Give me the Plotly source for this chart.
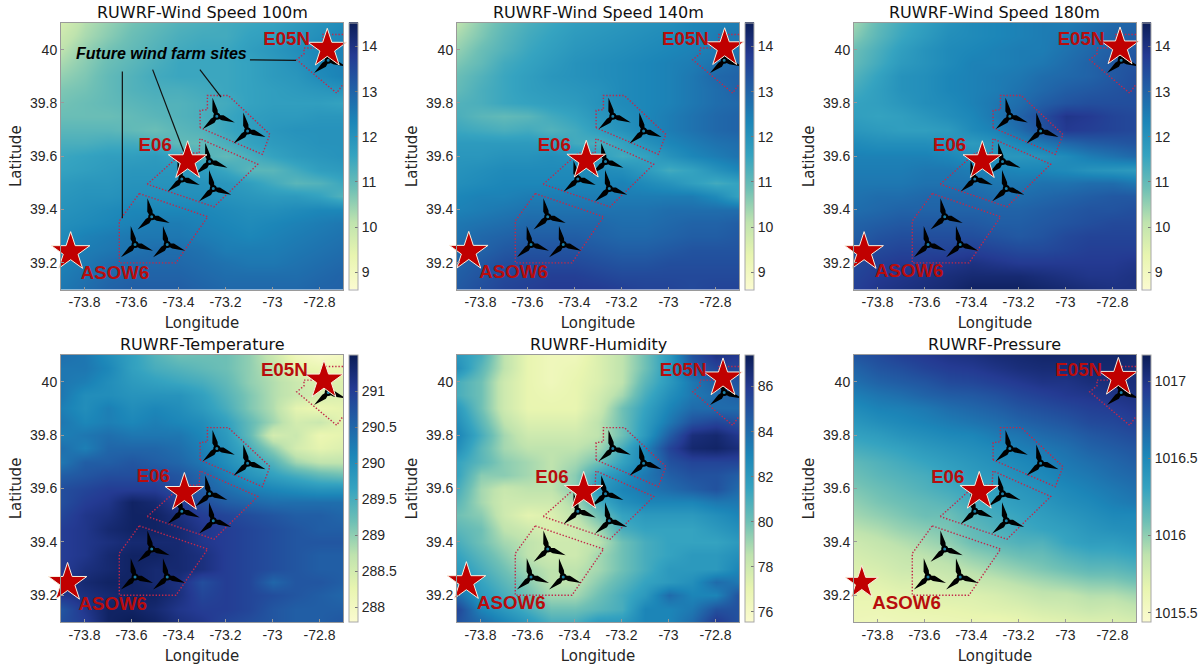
import math
import plotly.graph_objects as go

LON = [-73.9, -73.8, -73.7, -73.6, -73.5, -73.4, -73.3, -73.2, -73.1, -73.0, -72.9, -72.8, -72.7]
LAT = [39.10,39.15,39.20,39.25,39.30,39.35,39.40,39.45,39.50,39.55,39.60,39.65,39.70,39.75,39.80,39.85,39.90,39.95,40.00,40.05,40.10]

wind100 = [
 [12.6,12.8,13.0,13.1,13.1,13.1,13.0,12.9,12.9,12.9,12.9,13.0,13.0],
 [12.5,12.7,12.9,13.0,13.0,13.0,12.9,12.8,12.8,12.8,12.8,12.9,13.0],
 [12.4,12.6,12.8,12.9,12.9,12.9,12.8,12.7,12.6,12.6,12.7,12.8,12.9],
 [12.3,12.5,12.6,12.7,12.8,12.8,12.7,12.5,12.5,12.5,12.6,12.7,12.8],
 [12.2,12.4,12.5,12.6,12.6,12.6,12.5,12.4,12.3,12.4,12.5,12.6,12.7],
 [12.1,12.2,12.3,12.4,12.5,12.5,12.4,12.3,12.2,12.3,12.4,12.5,12.6],
 [12.0,12.1,12.2,12.3,12.3,12.3,12.3,12.2,12.1,12.1,12.2,12.3,12.3],
 [11.9,12.0,12.0,12.1,12.1,12.1,12.1,12.0,11.9,11.8,11.8,11.6,11.2],
 [11.8,11.9,11.9,12.0,12.0,12.0,12.0,11.9,11.7,11.4,11.1,11.2,11.5],
 [11.6,11.7,11.8,11.9,11.9,11.9,11.8,11.5,11.1,11.1,11.4,11.7,11.8],
 [11.5,11.6,11.7,11.7,11.8,11.6,11.2,11.0,11.3,11.6,11.8,11.9,12.0],
 [11.3,11.3,11.4,11.4,11.3,11.0,11.0,11.3,11.6,11.8,11.9,12.0,12.0],
 [11.1,11.1,11.1,11.0,10.9,11.1,11.2,11.5,11.7,11.9,12.0,12.0,12.0],
 [10.9,10.9,10.9,11.0,11.1,11.2,11.3,11.5,11.7,11.8,11.8,11.9,11.9],
 [10.8,10.9,11.0,11.1,11.2,11.2,11.3,11.4,11.6,11.7,11.7,11.7,11.6],
 [10.7,10.8,11.0,11.2,11.3,11.3,11.4,11.5,11.6,11.7,11.8,11.9,12.0],
 [10.5,10.7,11.0,11.2,11.4,11.5,11.5,11.5,11.6,11.8,11.9,12.2,12.4],
 [10.3,10.6,10.9,11.1,11.3,11.5,11.5,11.5,11.6,11.8,12.0,12.3,12.4],
 [10.1,10.5,10.8,11.0,11.2,11.4,11.5,11.5,11.7,11.9,12.1,12.3,12.4],
 [9.9,10.3,10.6,10.9,11.1,11.3,11.4,11.4,11.6,11.7,11.9,12.1,12.3],
 [9.7,10.2,10.5,10.8,11.0,11.2,11.3,11.4,11.5,11.6,11.8,12.0,12.2],
]
wind140 = [
 [13.2,13.4,13.6,13.7,13.8,13.8,13.8,13.7,13.6,13.6,13.5,13.6,13.6],
 [13.1,13.3,13.5,13.6,13.7,13.7,13.6,13.5,13.5,13.5,13.5,13.5,13.5],
 [13.0,13.2,13.4,13.5,13.5,13.5,13.4,13.3,13.3,13.4,13.4,13.4,13.4],
 [12.9,13.0,13.2,13.3,13.3,13.3,13.2,13.1,13.1,13.2,13.3,13.3,13.3],
 [12.7,12.9,13.0,13.1,13.1,13.1,13.0,12.9,12.9,13.0,13.1,13.1,13.2],
 [12.6,12.7,12.8,12.9,12.9,12.9,12.9,12.8,12.8,12.9,13.0,13.0,13.1],
 [12.4,12.5,12.6,12.7,12.7,12.7,12.7,12.7,12.7,12.8,12.8,12.8,12.8],
 [12.3,12.4,12.4,12.5,12.5,12.5,12.5,12.5,12.5,12.5,12.5,12.2,11.6],
 [12.1,12.2,12.3,12.3,12.3,12.3,12.3,12.4,12.2,12.0,11.7,11.4,11.6],
 [12.0,12.1,12.2,12.2,12.2,12.2,12.2,12.1,11.8,11.4,11.6,12.0,12.3],
 [11.9,11.9,12.0,12.0,12.1,12.0,11.7,11.4,11.6,12.0,12.3,12.5,12.7],
 [11.8,11.8,11.8,11.8,11.7,11.4,11.3,11.6,12.0,12.3,12.5,12.7,12.8],
 [11.5,11.4,11.3,11.4,11.2,11.4,11.7,12.0,12.3,12.5,12.7,12.9,13.0],
 [11.3,11.1,11.0,11.1,11.4,11.6,11.9,12.1,12.3,12.5,12.7,12.9,13.0],
 [11.2,11.3,11.5,11.6,11.7,11.8,12.0,12.2,12.3,12.4,12.6,12.8,12.9],
 [11.0,11.3,11.5,11.7,11.8,11.9,12.0,12.2,12.3,12.4,12.6,12.8,13.0],
 [10.9,11.2,11.5,11.7,11.9,12.0,12.1,12.2,12.3,12.4,12.6,12.9,13.0],
 [10.7,11.0,11.4,11.6,11.8,12.0,12.1,12.2,12.3,12.4,12.5,12.7,12.9],
 [10.5,10.9,11.2,11.5,11.7,11.9,12.0,12.1,12.2,12.3,12.4,12.5,12.6],
 [10.3,10.7,11.1,11.4,11.6,11.8,11.9,12.0,12.1,12.2,12.3,12.5,12.6],
 [10.1,10.6,11.0,11.3,11.5,11.7,11.8,11.9,12.0,12.1,12.3,12.4,12.5],
]
wind180 = [
 [13.7,13.9,14.0,14.1,14.2,14.4,14.4,14.4,14.3,14.2,14.1,14.0,14.0],
 [13.6,13.8,13.9,14.0,14.1,14.2,14.2,14.2,14.1,14.0,13.9,13.9,14.0],
 [13.5,13.7,13.8,13.8,13.9,14.0,13.9,13.8,13.8,13.8,13.8,13.8,13.9],
 [13.3,13.5,13.6,13.6,13.6,13.7,13.6,13.5,13.5,13.6,13.7,13.7,13.7],
 [13.1,13.3,13.4,13.4,13.4,13.4,13.3,13.2,13.3,13.5,13.6,13.6,13.6],
 [13.0,13.1,13.2,13.2,13.2,13.2,13.1,13.1,13.2,13.3,13.4,13.5,13.5],
 [12.8,12.9,13.0,13.0,13.0,13.0,13.0,13.0,13.1,13.2,13.3,13.3,13.4],
 [12.7,12.8,12.8,12.9,12.9,12.9,12.8,12.8,12.9,13.0,13.1,13.2,13.2],
 [12.6,12.6,12.6,12.7,12.7,12.7,12.6,12.6,12.7,12.7,12.8,12.8,12.6],
 [12.5,12.5,12.5,12.6,12.6,12.5,12.4,12.3,12.3,12.2,12.0,11.9,11.8],
 [12.4,12.4,12.4,12.4,12.3,12.1,11.9,11.9,12.0,12.2,12.5,12.7,12.9],
 [12.2,12.1,12.1,12.1,12.0,11.8,12.0,12.3,12.6,12.9,13.1,13.2,13.3],
 [11.9,11.8,11.7,11.7,11.8,12.2,12.4,12.8,13.3,13.8,13.7,13.6,13.5],
 [11.7,11.6,11.7,11.9,12.1,12.3,12.6,13.0,13.4,13.9,13.8,13.6,13.5],
 [11.6,11.7,11.9,12.1,12.2,12.4,12.6,12.8,13.1,13.3,13.4,13.4,13.4],
 [11.4,11.7,12.0,12.1,12.3,12.4,12.5,12.7,12.9,13.1,13.2,13.3,13.4],
 [11.2,11.6,12.0,12.1,12.3,12.4,12.5,12.6,12.8,12.9,13.0,13.2,13.4],
 [11.0,11.4,11.8,12.0,12.2,12.4,12.4,12.5,12.6,12.8,13.0,13.2,13.3],
 [10.9,11.3,11.7,12.0,12.2,12.3,12.4,12.5,12.5,12.7,12.9,13.1,13.2],
 [10.6,11.1,11.5,11.8,12.1,12.2,12.3,12.4,12.5,12.6,12.8,13.0,13.1],
 [10.4,11.0,11.4,11.7,12.0,12.2,12.3,12.4,12.5,12.5,12.7,12.9,13.0],
]
temperature = [
 [290.8,291.0,291.4,291.5,291.4,291.2,291.1,290.9,290.8,290.7,290.6,290.6,290.7],
 [290.7,291.1,291.4,291.4,291.3,291.1,291.0,291.0,290.9,290.7,290.6,290.6,290.6],
 [291.1,291.2,291.3,291.4,291.4,291.2,290.9,291.0,290.9,290.8,290.7,290.6,290.5],
 [291.1,291.3,291.4,291.4,291.3,291.2,290.8,291.0,290.9,290.5,290.7,290.7,290.6],
 [291.0,291.2,291.3,291.4,291.3,291.3,291.2,291.0,290.9,290.8,290.7,290.6,290.6],
 [291.0,291.1,291.3,291.4,291.4,291.3,291.2,291.0,290.9,290.8,290.7,290.6,290.6],
 [291.0,291.1,291.2,291.3,291.3,291.3,291.1,291.0,290.9,290.8,290.7,290.7,290.7],
 [291.0,291.1,291.3,291.4,291.4,291.3,291.1,291.0,290.9,290.8,290.7,290.6,290.6],
 [290.9,291.1,291.2,291.4,291.4,291.2,291.0,290.9,290.8,290.7,290.6,290.6,290.5],
 [290.8,291.0,291.1,291.4,291.3,291.0,290.8,290.6,290.5,290.4,290.4,290.4,290.4],
 [290.8,290.9,291.0,291.0,291.0,290.8,290.6,290.4,290.2,290.1,290.0,289.9,289.9],
 [290.6,290.7,290.8,290.8,290.8,290.7,290.5,290.2,289.9,289.7,289.5,289.3,289.2],
 [290.3,290.6,290.6,290.7,290.6,290.5,290.3,290.0,289.7,289.4,288.9,288.7,288.7],
 [290.4,290.2,290.5,290.5,290.5,290.4,290.2,289.9,289.5,289.0,288.5,288.3,288.4],
 [290.2,290.3,290.4,290.3,290.3,290.3,290.1,289.8,289.3,288.5,288.6,288.2,288.3],
 [290.3,290.1,290.2,290.1,290.2,290.1,290.0,289.7,289.3,288.9,288.5,288.6,288.3],
 [290.2,290.0,290.2,290.0,290.1,290.0,289.8,289.5,289.1,288.8,288.3,288.2,288.3],
 [290.3,290.0,290.0,289.9,289.9,289.9,289.7,289.4,289.1,288.8,288.6,288.5,288.4],
 [290.3,290.2,290.0,289.8,289.7,289.6,289.5,289.3,289.0,288.8,288.6,288.4,288.4],
 [290.3,290.3,290.1,289.7,289.5,289.4,289.3,289.2,289.0,288.7,288.3,288.2,288.2],
 [290.4,290.3,290.0,289.7,289.4,289.2,289.2,289.2,289.0,288.6,288.1,287.9,288.0],
]
humidity = [
 [85,84,83,82,81,81,82,82,83,83,84,86,85],
 [85.5,83,82,81,80,80,80.5,81,83,83,83.5,85,85],
 [84,82,81,80,79,79,80,81,82,84,83,83,85],
 [83,81.5,80.5,79.5,78.5,78.5,79.5,80.5,81.5,82,82.5,84,83.5],
 [82,81,80,79,78.5,78.5,79,80,81,82,82,82,83],
 [81.5,80.5,79.5,78.5,78,78,79,80,81,81.5,82,82,82.5],
 [81,80,79,78.5,78,78,78.5,80,81,81.5,81.5,81.5,82],
 [80.5,80,78.5,78,77.5,78,79,81,81.5,81.5,81.5,82,82.5],
 [80,79.5,78,77.2,77.5,78.5,80,81.5,82,82,82,82.5,83],
 [80.5,79,78,78,78,79,81,82.5,83,83,83,83.5,83.5],
 [81,79,78.2,78.5,78.5,79.5,82,83,83.5,84,84.5,85,84],
 [81.5,79.5,79.5,79,78.5,79.5,81.5,82.5,83.5,84.5,85,85,84.5],
 [81.5,80.5,79.5,79,78.5,79,80,81.5,83,85,85.5,85.5,85.5],
 [82.5,80.5,79,78.5,78.5,78.5,79,81,83,85.5,86.8,87,86.5],
 [83,81,79,78,78,78,78.5,80,82,84.5,86.5,86.8,86],
 [82.5,80.5,78.5,77.5,77.5,77.5,78.5,80,81.8,83.5,85,85.5,85],
 [82,80,78,77,77,77,78,80,81.5,83,84,84,84],
 [81,80,78,77,76.8,77,77.8,79,81,82.5,83.5,84,84.5],
 [81,80,78,77,76.5,77,77.5,78.5,80.5,82,83.5,84.5,85],
 [82.5,80.5,78.5,77,76.5,76.8,77.5,78.5,80,82,84.5,85.5,85.5],
 [82,81,78.5,77,76.5,76.5,77.5,78.5,80,82,85,86.3,86],
]
pressure = [
 [1015.60,1015.58,1015.60,1015.60,1015.62,1015.63,1015.62,1015.65,1015.68,1015.70,1015.72,1015.72,1015.75],
 [1015.62,1015.62,1015.64,1015.66,1015.66,1015.68,1015.70,1015.72,1015.76,1015.78,1015.82,1015.80,1015.85],
 [1015.65,1015.65,1015.68,1015.70,1015.72,1015.72,1015.75,1015.80,1015.85,1015.85,1015.90,1015.90,1015.95],
 [1015.68,1015.70,1015.74,1015.74,1015.78,1015.82,1015.85,1015.90,1015.94,1015.98,1016.02,1016.03,1016.08],
 [1015.72,1015.75,1015.80,1015.82,1015.85,1015.90,1015.95,1016.00,1016.05,1016.10,1016.15,1016.15,1016.20],
 [1015.76,1015.80,1015.84,1015.88,1015.92,1016.00,1016.05,1016.10,1016.12,1016.20,1016.25,1016.26,1016.30],
 [1015.80,1015.85,1015.90,1015.95,1016.00,1016.10,1016.15,1016.20,1016.20,1016.30,1016.35,1016.35,1016.40],
 [1015.88,1015.92,1015.98,1016.02,1016.06,1016.14,1016.20,1016.26,1016.30,1016.34,1016.40,1016.44,1016.46],
 [1015.95,1016.00,1016.05,1016.10,1016.10,1016.20,1016.25,1016.30,1016.35,1016.40,1016.45,1016.50,1016.50],
 [1016.00,1016.06,1016.10,1016.14,1016.18,1016.26,1016.30,1016.36,1016.40,1016.46,1016.50,1016.56,1016.60],
 [1016.05,1016.10,1016.15,1016.20,1016.25,1016.30,1016.35,1016.40,1016.45,1016.50,1016.55,1016.60,1016.65],
 [1016.10,1016.16,1016.20,1016.24,1016.30,1016.36,1016.40,1016.46,1016.50,1016.56,1016.60,1016.66,1016.70],
 [1016.15,1016.20,1016.25,1016.30,1016.35,1016.40,1016.45,1016.50,1016.55,1016.60,1016.65,1016.70,1016.75],
 [1016.24,1016.28,1016.32,1016.38,1016.42,1016.46,1016.50,1016.56,1016.60,1016.65,1016.72,1016.76,1016.80],
 [1016.32,1016.36,1016.42,1016.46,1016.50,1016.52,1016.58,1016.62,1016.68,1016.72,1016.78,1016.82,1016.86],
 [1016.40,1016.46,1016.50,1016.54,1016.58,1016.62,1016.66,1016.72,1016.76,1016.80,1016.86,1016.88,1016.92],
 [1016.48,1016.54,1016.56,1016.60,1016.66,1016.70,1016.74,1016.80,1016.84,1016.88,1016.92,1016.94,1016.98],
 [1016.56,1016.62,1016.66,1016.72,1016.76,1016.78,1016.82,1016.88,1016.92,1016.96,1016.98,1017.00,1017.02],
 [1016.65,1016.72,1016.76,1016.80,1016.86,1016.88,1016.92,1016.96,1017.00,1017.00,1017.04,1017.04,1017.04],
 [1016.72,1016.80,1016.84,1016.90,1016.94,1016.96,1017.00,1017.04,1017.06,1017.06,1017.08,1017.08,1017.06],
 [1016.80,1016.86,1016.92,1016.96,1017.00,1017.02,1017.06,1017.08,1017.10,1017.10,1017.10,1017.10,1017.08],
]

titles = ["RUWRF-Wind Speed 100m", "RUWRF-Wind Speed 140m", "RUWRF-Wind Speed 180m",
          "RUWRF-Temperature", "RUWRF-Humidity", "RUWRF-Pressure"]
grids = [wind100, wind140, wind180, temperature, humidity, pressure]
z_ranges = [(8.62, 14.53), (8.62, 14.53), (8.62, 14.53), (287.8, 291.5), (75.55, 87.4), (1015.44, 1017.17)]
cbar_ticks = [[9,10,11,12,13,14]]*3 + [[288,288.5,289,289.5,290,290.5,291], [76,78,80,82,84,86], [1015.5,1016,1016.5,1017]]
cbar_text = [["9","10","11","12","13","14"]]*3 + [["288","288.5","289","289.5","290","290.5","291"],
             ["76","78","80","82","84","86"], ["1015.5","1016","1016.5","1017"]]

lon_ticks = [-73.8, -73.6, -73.4, -73.2, -73.0, -72.8]
lon_text = ["-73.8", "-73.6", "-73.4", "-73.2", "-73", "-72.8"]
lat_ticks = [39.2, 39.4, 39.6, 39.8, 40.0]
lat_text = ["39.2", "39.4", "39.6", "39.8", "40"]

star_names = ["E05N", "E06", "ASOW6"]
star_lon = [[-72.767,-73.361,-73.859], [-72.761,-73.350,-73.850], [-72.768,-73.354,-73.857],
            [-72.781,-73.375,-73.872], [-72.768,-73.361,-73.860], [-72.775,-73.367,-73.867]]
star_lat = [[40.004,39.582,39.241], [40.006,39.584,39.242], [40.009,39.582,39.241],
            [40.005,39.584,39.247], [40.013,39.588,39.250], [40.015,39.588,39.247]]
star_size = [[29,29,29]]*5 + [[29,29,25]]
label_lon = [[-72.94,-73.499,-73.67], [-72.928,-73.486,-73.659], [-72.934,-73.493,-73.665],
             [-72.95,-73.507,-73.68], [-72.938,-73.496,-73.669], [-72.944,-73.501,-73.676]]
label_lat = [[40.035,39.636,39.157], [40.035,39.636,39.161], [40.035,39.636,39.164],
             [40.04,39.641,39.162], [40.04,39.638,39.166], [40.04,39.638,39.166]]

farm_south = [(-73.567,39.46),(-73.276,39.373),(-73.411,39.2),(-73.652,39.2),(-73.652,39.357),(-73.567,39.46)]
farm_mid = [(-73.533,39.495),(-73.384,39.612),(-73.312,39.612),(-73.309,39.666),(-73.063,39.57),(-73.249,39.41),(-73.533,39.495)]
farm_north = [(-73.308,39.707),(-73.308,39.772),(-73.277,39.775),(-73.277,39.828),(-73.188,39.828),(-73.011,39.682),(-73.043,39.607),(-73.308,39.707)]
farm_ne = [(-72.7,40.057),(-72.786,40.057),(-72.786,40.006),(-72.866,40.006),(-72.866,39.984),(-72.897,39.962),(-72.727,39.837),(-72.7,39.87)]
farms = [farm_south, farm_mid, farm_north, farm_ne]

turbine_lon = [-73.237,-73.106,-73.268,-73.386,-73.252,-73.514,-73.585,-73.448,-72.763]
turbine_lat = [39.75,39.695,39.58,39.515,39.479,39.373,39.269,39.269,39.96]
callouts = [[(-73.639,39.918),(-73.639,39.367)], [(-73.51,39.925),(-73.377,39.616)],
            [(-73.309,39.925),(-73.219,39.822)], [(-73.096,39.962),(-72.9,39.96)]]

YLGNBU = [[0,"#fbfbd0"],[0.125,"#e8f5b0"],[0.25,"#bfe3ae"],[0.375,"#6fc0b5"],[0.5,"#35a3c0"],
          [0.625,"#1c86b8"],[0.75,"#2160a6"],[0.875,"#243a92"],[1,"#0b1d57"]]

PX_LON, PX_LAT = 235.0, 267.0   # pixels per degree of each panel
BLADE = [(0,-1.2),(6,-3.2),(19,0),(6,2.2),(0,1.2)]
BLADE_DIRS = [-103, 19, 138]    # screen angles of the three blades

def turbine_paths(hubs_x, hubs_y):
    xs, ys = [], []
    for hx, hy in zip(hubs_x, hubs_y):
        for ang in BLADE_DIRS:
            a = math.radians(ang)
            for u, v in BLADE:
                px = u*math.cos(a) - v*math.sin(a)
                py = u*math.sin(a) + v*math.cos(a)
                xs.append(hx + px/PX_LON)
                ys.append(hy - py/PX_LAT)
            xs.append(None); ys.append(None)
    return xs, ys

W, H = 1204, 666
col_x = [61, 457, 854]
row_y = [(23, 289.5), (355, 622)]
PW = 282
CB_GAP = 6

fig = go.Figure()
layout = dict(width=W, height=H, autosize=False, margin=dict(l=0,r=0,t=0,b=0,pad=0),
              paper_bgcolor="white", plot_bgcolor="white", showlegend=False,
              font=dict(family="Liberation Sans", color="#262626", size=14), annotations=[])

for i in range(6):
    r, c = divmod(i, 3)
    x0 = col_x[c]; y0, y1 = row_y[r]
    n = i + 1
    xa, ya = f"x{n}", f"y{n}"
    axis_common = dict(showgrid=False, zeroline=False, showline=True, mirror=True, linecolor="#9a9a9a",
                       linewidth=1, ticks="inside", ticklen=3, tickcolor="#9a9a9a", tickmode="array",
                       tickfont=dict(family="Liberation Sans", size=14, color="#262626"))
    layout[f"xaxis{n}"] = dict(domain=[x0/W, (x0+PW)/W], range=[-73.9,-72.7], anchor=ya,
                               tickvals=lon_ticks, ticktext=lon_text,
                               title=dict(text="Longitude", font=dict(family="DejaVu Sans", size=15, color="#262626"), standoff=8),
                               **axis_common)
    layout[f"yaxis{n}"] = dict(domain=[1-y1/H, 1-y0/H], range=[39.1,40.1], anchor=xa,
                               tickvals=lat_ticks, ticktext=lat_text,
                               title=dict(text="Latitude", font=dict(family="DejaVu Sans", size=15, color="#262626"), standoff=4),
                               **axis_common)
    zmin, zmax = z_ranges[i]
    fig.add_trace(go.Heatmap(x=LON, y=LAT, z=grids[i], zmin=zmin, zmax=zmax, zsmooth="best",
                             colorscale=YLGNBU, xaxis=xa, yaxis=ya,
                             colorbar=dict(x=(x0+PW+CB_GAP)/W, xanchor="left", xpad=0, ypad=0,
                                           y=1-y1/H, yanchor="bottom", len=(y1-y0)/H, lenmode="fraction",
                                           thickness=9, outlinecolor="#a8a8a8", outlinewidth=1,
                                           tickmode="array", tickvals=cbar_ticks[i], ticktext=cbar_text[i],
                                           ticks="inside", ticklen=3, tickcolor="#777777",
                                           tickfont=dict(family="Liberation Sans", size=14, color="#262626"))))
    for farm in farms:
        fig.add_trace(go.Scatter(x=[p[0] for p in farm], y=[p[1] for p in farm], mode="lines",
                                 line=dict(color="#c2284a", width=1.4, dash="1.4px,1.8px"),
                                 hoverinfo="skip", xaxis=xa, yaxis=ya))
    if i == 0:
        for line in callouts:
            fig.add_trace(go.Scatter(x=[p[0] for p in line], y=[p[1] for p in line], mode="lines",
                                     line=dict(color="#111111", width=1.2), hoverinfo="skip", xaxis=xa, yaxis=ya))
        layout["annotations"].append(dict(x=-73.472, y=39.984, xref="x1", yref="y1", showarrow=False,
                                          xanchor="center", yanchor="middle",
                                          text="<b><i>Future wind farm sites</i></b>",
                                          font=dict(family="Liberation Sans", size=16, color="#000000")))
    bx, by = turbine_paths(turbine_lon, turbine_lat)
    fig.add_trace(go.Scatter(x=bx, y=by, mode="lines", fill="toself", fillcolor="#000000",
                             line=dict(width=0, color="#000000"), hoverinfo="skip", xaxis=xa, yaxis=ya))
    fig.add_trace(go.Scatter(x=turbine_lon, y=turbine_lat, mode="markers",
                             marker=dict(size=5, color="#1a7fa8", line=dict(color="#000000", width=2)),
                             hoverinfo="skip", xaxis=xa, yaxis=ya))
    fig.add_trace(go.Scatter(x=star_lon[i], y=star_lat[i], mode="markers", cliponaxis=False,
                             marker=dict(symbol="star", size=star_size[i], color="#c00000", opacity=1,
                                         line=dict(color="#fbeedd", width=1)),
                             hoverinfo="skip", xaxis=xa, yaxis=ya))
    fig.add_trace(go.Scatter(x=label_lon[i], y=label_lat[i], mode="text", text=star_names, cliponaxis=False,
                             textposition="middle center",
                             textfont=dict(family="Liberation Sans", size=18.7, color="#b80d0d", weight="bold"),
                             hoverinfo="skip", xaxis=xa, yaxis=ya))
    layout["annotations"].append(dict(x=(x0+PW/2)/W, y=1-(y0-11)/H, xref="paper", yref="paper", showarrow=False,
                                      xanchor="center", yanchor="middle",
                                      text=titles[i], font=dict(family="DejaVu Sans", size=16, color="#111111")))

fig.update_layout(**layout)
fig.write_html("out.html", config={"displayModeBar": False}, post_script="document.body.style.margin='0';")
